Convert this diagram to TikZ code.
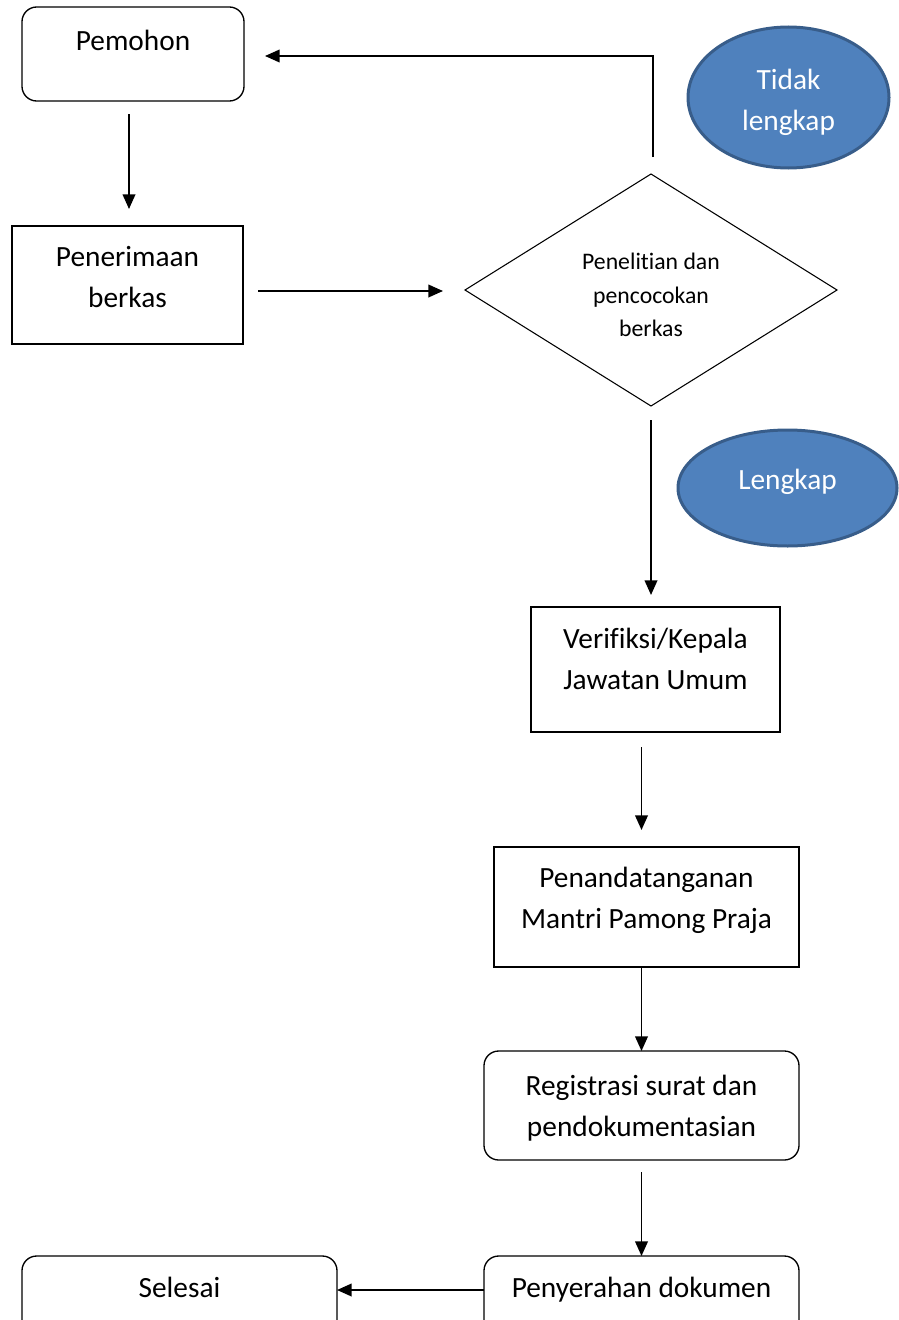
\documentclass[tikz,border=0pt]{standalone}
\usepackage{fontspec}
\setmainfont[Ligatures=NoCommon, RawFeature=-liga]{Carlito}
\usetikzlibrary{shapes.geometric}
\usetikzlibrary{arrows.meta}
\definecolor{ovalfill}{HTML}{4F81BD}
\definecolor{ovaldraw}{HTML}{385D8A}
\newcommand{\lowtext}[1]{\rule[-#1]{0pt}{#1}}

\begin{document}
\begin{tikzpicture}
      [
        x = 0.75pt, y = -0.75pt,
        every node/.style = {outer sep = 0pt, font = \fontsize{22pt}{30.75pt}\selectfont},
        sqbox/.style = {draw, line width = 1.4pt, align = center},
        rbox/.style = {draw, line width = 1pt, rounded corners = 11pt, align = center},
        check/.style = {diamond, draw, line width = 0.8pt, aspect = 1.6, inner sep = 0pt, align = center,
            font = \fontsize{17.8pt}{25.2pt}\selectfont},
        oval/.style = {ellipse, draw = ovaldraw, fill = ovalfill, line width = 2.25pt, text = white, align = center},
        flow/.style = {-{Triangle[width=9.5pt, length=11pt]}, line width = 1.3pt}
      ]

      \useasboundingbox (0,0) rectangle (899,1320);
      \clip (0,0) rectangle (899,1320);

      \node[rbox, minimum width = 166.5pt, minimum height = 70.5pt, text height = 13.5pt, text depth = 18.5pt]
        (pemohon) at (133,54) {Pemohon};
      \node[sqbox, minimum width = 173.25pt, minimum height = 88.5pt]
        (terima) at (127.5,285) {Penerimaan\\berkas\lowtext{12.75pt}};
      \node[check, minimum width = 279pt, minimum height = 174pt]
        (teliti) at (651,290) {\rule{0pt}{20pt}Penelitian dan\\pencocokan\\berkas};
      \node[oval, minimum width = 150.75pt, minimum height = 105.75pt]
        (tidak) at (788.5,97.5) {\rule{0pt}{22pt}Tidak\\lengkap};
      \node[oval, minimum width = 164.25pt, minimum height = 87pt]
        (lengkap) at (787.5,488) {Lengkap\lowtext{13.5pt}};
      \node[sqbox, minimum width = 186.75pt, minimum height = 93.75pt]
        (verif) at (655.5,669.5) {Verifiksi/Kepala\\Jawatan Umum\lowtext{16.5pt}};
      \node[sqbox, minimum width = 228.75pt, minimum height = 90pt]
        (tanda) at (646.5,907) {Penandatanganan\\Mantri Pamong Praja\lowtext{14.25pt}};
      \node[rbox, minimum width = 236.25pt, minimum height = 81.75pt]
        (regis) at (641.5,1105.5) {\rule{0pt}{19pt}Registrasi surat dan\\pendokumentasian};
      \node[rbox, minimum width = 236.25pt, minimum height = 60pt, text height = 13.5pt, text depth = 12pt]
        (serah) at (641.5,1296) {Penyerahan dokumen};
      \node[rbox, minimum width = 236.25pt, minimum height = 60pt, text height = 13.5pt, text depth = 12pt]
        (selesai) at (179.5,1296) {Selesai};

      \draw[flow, shorten < = 9.75pt, shorten > = 12.75pt] (pemohon.south -| 129,0) -- (terima.north -| 129,0);
      \draw[flow, shorten < = 11.25pt, shorten > = 16.5pt] (terima.east |- 0,291) -- (teliti.west |- 0,291);
      \draw[flow, shorten < = 12.75pt, shorten > = 15.75pt] ([xshift = 1.5pt]teliti.north) |- ([yshift = -1.5pt]pemohon.east);
      \draw[flow, shorten < = 10.5pt, shorten > = 9pt] (teliti.south) -- (teliti.south |- verif.north);
      \draw[flow, shorten < = 11.25pt, shorten > = 12.75pt] (verif.south -| regis) -- (tanda.north -| regis);
      \draw[flow] (tanda.south -| regis) -- (regis.north);
      \draw[flow, shorten < = 9pt] (regis.south) -- (serah.north);
      \draw[flow] (serah.west |- 0,1290) -- (selesai.east |- 0,1290);

\end{tikzpicture}
\end{document}
